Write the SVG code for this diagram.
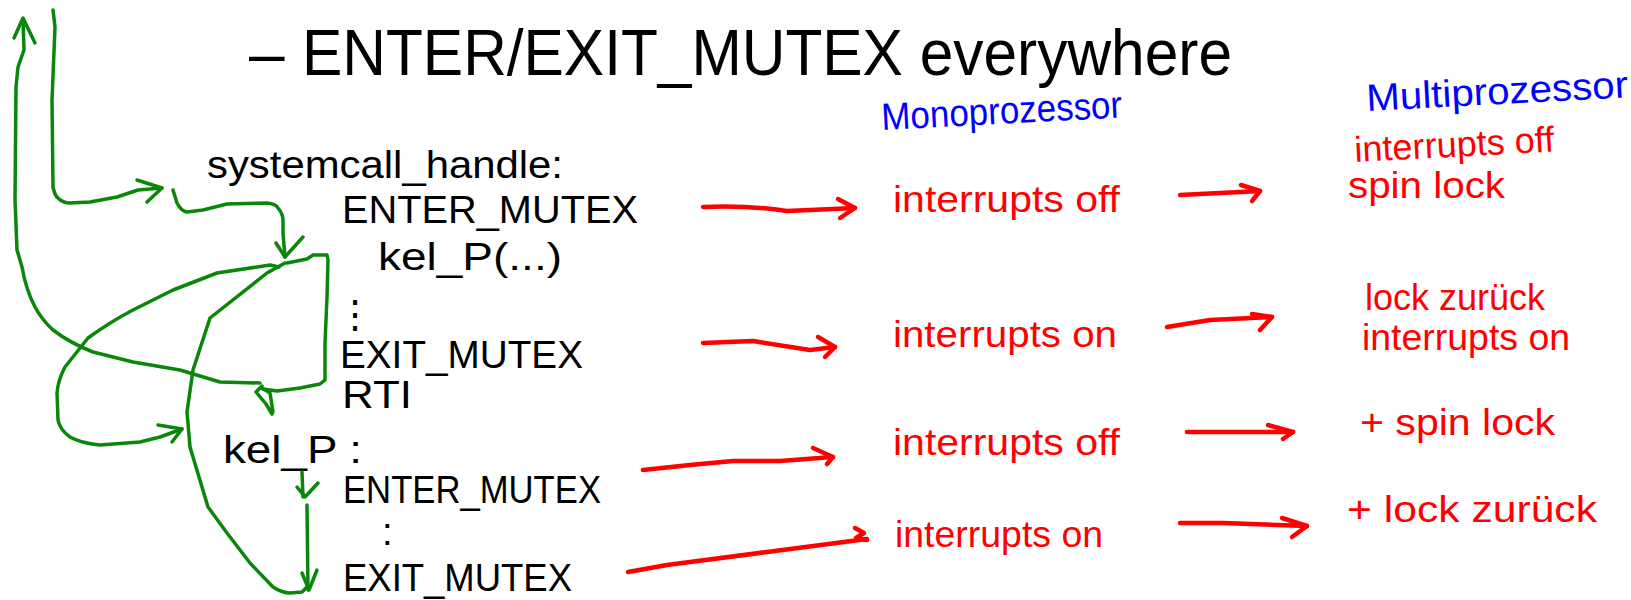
<svg xmlns="http://www.w3.org/2000/svg" width="1631" height="600" viewBox="0 0 1631 600">
<style>
.title{font-family:"Liberation Sans",Arial,sans-serif;font-size:64px;fill:#000}
.hw{font-family:"Liberation Sans",Arial,sans-serif;fill:#000;font-size:38px}
.red{font-family:"Liberation Sans",Arial,sans-serif;fill:#ff0000;font-size:36px}
.blue{font-family:"Liberation Sans",Arial,sans-serif;fill:#0000ff;font-size:38px}
.g{fill:none;stroke:#0a870a;stroke-width:3.5;stroke-linecap:round;stroke-linejoin:round}
.r{fill:none;stroke:#ff0000;stroke-width:4.5;stroke-linecap:round;stroke-linejoin:round}
</style>
<rect width="1631" height="600" fill="#fff"/>
<g id="title">
<text class="title" x="249" y="75">–</text>
<text class="title" x="302" y="75" textLength="930" lengthAdjust="spacingAndGlyphs">ENTER/EXIT_MUTEX everywhere</text>
</g>
<g id="code-syscall">
<text class="hw" x="207" y="178" font-size="40" textLength="356" lengthAdjust="spacingAndGlyphs">systemcall_handle:</text>
<text class="hw" x="342" y="223" textLength="296" lengthAdjust="spacingAndGlyphs">ENTER_MUTEX</text>
<text class="hw" x="378" y="270" textLength="184" lengthAdjust="spacingAndGlyphs">kel_P(...)</text>
<text class="hw" x="336" y="328" font-size="34">⋮</text>
<text class="hw" x="340" y="368" font-size="35" textLength="243" lengthAdjust="spacingAndGlyphs">EXIT_MUTEX</text>
<text class="hw" x="342" y="408" font-size="33" textLength="70" lengthAdjust="spacingAndGlyphs">RTI</text>
</g>
<g id="code-kelp">
<text class="hw" x="223" y="463" font-size="40" textLength="139" lengthAdjust="spacingAndGlyphs">kel_P :</text>
<text class="hw" x="343" y="503" font-size="35" textLength="258" lengthAdjust="spacingAndGlyphs">ENTER_MUTEX</text>
<text class="hw" x="382" y="545" font-size="30">:</text>
<text class="hw" x="343" y="591" font-size="34" textLength="229" lengthAdjust="spacingAndGlyphs">EXIT_MUTEX</text>
</g>
<g id="head-mono">
<text class="blue" x="882" y="130" transform="rotate(-3 882 130)" textLength="241" lengthAdjust="spacingAndGlyphs">Monoprozessor</text>
</g>
<g id="head-multi">
<text class="blue" x="1367" y="111" transform="rotate(-3 1367 111)" textLength="262" lengthAdjust="spacingAndGlyphs">Multiprozessor</text>
</g>
<g id="mono-1"><text class="red" x="893" y="212" textLength="227" lengthAdjust="spacingAndGlyphs">interrupts off</text></g>
<g id="mono-2"><text class="red" x="893" y="347" textLength="224" lengthAdjust="spacingAndGlyphs">interrupts on</text></g>
<g id="mono-3"><text class="red" x="893" y="455" textLength="227" lengthAdjust="spacingAndGlyphs">interrupts off</text></g>
<g id="mono-4"><text class="red" x="895" y="547" textLength="208" lengthAdjust="spacingAndGlyphs">interrupts on</text></g>
<g id="multi-1">
<text class="red" x="1355" y="162" font-size="34" transform="rotate(-3 1355 162)" textLength="200" lengthAdjust="spacingAndGlyphs">interrupts off</text>
<text class="red" x="1348" y="198" font-size="34" textLength="157" lengthAdjust="spacingAndGlyphs">spin lock</text>
</g>
<g id="multi-2">
<text class="red" x="1365" y="310" font-size="34" textLength="180" lengthAdjust="spacingAndGlyphs">lock zurück</text>
<text class="red" x="1362" y="350" font-size="34" textLength="208" lengthAdjust="spacingAndGlyphs">interrupts on</text>
</g>
<g id="multi-3"><text class="red" x="1360" y="435" font-size="34" textLength="195" lengthAdjust="spacingAndGlyphs">+ spin lock</text></g>
<g id="multi-4"><text class="red" x="1347" y="522" font-size="34" textLength="250" lengthAdjust="spacingAndGlyphs">+ lock zurück</text></g>
<g id="connectors">
<path class="g" d="M23,20 L24,50 L18,67 L16,87 L15,200 L17,250 L22,267 Q26,290 35,307 Q42,320 53,330 Q70,343 93,352 L133,362 L180,370 L200,376 L220,382 L260,383"/>
<path class="g" d="M14,38 L23,18 L35,43"/>
<path class="g" d="M53,10 L55,27 L52,100 L53,187 Q55,196 58,198 Q63,203 70,203 L90,202 L117,197 L138,190 L162,188"/>
<path class="g" d="M137,180 L162,188 L147,202"/>
<path class="g" d="M173,190 L177,203 Q181,211 187,212 L203,210 L227,204 L267,203 Q276,204 278,208 Q283,214 283,220 L283,233 L285,257"/>
<path class="g" d="M276,243 L285,257 L303,237"/>
<path class="g" d="M182,429 L160,437 L140,442 L100,445 Q80,443 70,437 Q60,430 58,420 L57,393 Q58,380 65,367 L88,338 Q110,322 133,310 L173,290 L217,273 L270,265 L279,267 M287,263 L307,259 L313,255 L327,255 L328,260 L327,297 L325,343 L325,380 L320,384 L300,388 L277,391 L263,389"/>
<path class="g" d="M158,425 L182,429 L172,442"/>
<path class="g" d="M262,386 L256,392 L266,404 L272,414 M262,388 L270,393 L273,412"/>
<path class="g" d="M285,263 L267,273 L210,318 L193,370 L187,412 L190,447 L208,507 L227,533 L250,563 L273,587 Q282,593 290,593 L302,592 L307,587"/>
<path class="g" d="M302,472 L303,497"/>
<path class="g" d="M297,487 L305,497 L318,483"/>
<path class="g" d="M307,505 L308,590"/>
<path class="g" d="M302,573 L309,590 L317,570"/>
<path class="r" d="M703,207 Q747,205 787,211 L855,208"/>
<path class="r" d="M838,199 L855,208 L840,218"/>
<path class="r" d="M703,343 L753,341 L810,350 L835,347"/>
<path class="r" d="M818,337 L835,347 L825,357"/>
<path class="r" d="M1180,195 L1220,193 L1260,191"/>
<path class="r" d="M1241,185 L1260,191 L1252,201"/>
<path class="r" d="M1167,327 L1210,320 L1272,317"/>
<path class="r" d="M1252,314 L1272,317 L1260,330"/>
<path class="r" d="M643,470 L690,465 L733,461 L780,461 L833,457"/>
<path class="r" d="M813,448 L833,457 L827,464"/>
<path class="r" d="M1187,432 L1293,432"/>
<path class="r" d="M1268,425 L1293,432 L1283,439"/>
<path class="r" d="M628,572 L667,565 L767,552 L867,539"/>
<path class="r" d="M855,528 L864,533 L856,538 L867,540"/>
<path class="r" d="M1180,523 L1223,523 L1307,526"/>
<path class="r" d="M1282,518 L1307,526 L1292,537"/>
</g>
</svg>
